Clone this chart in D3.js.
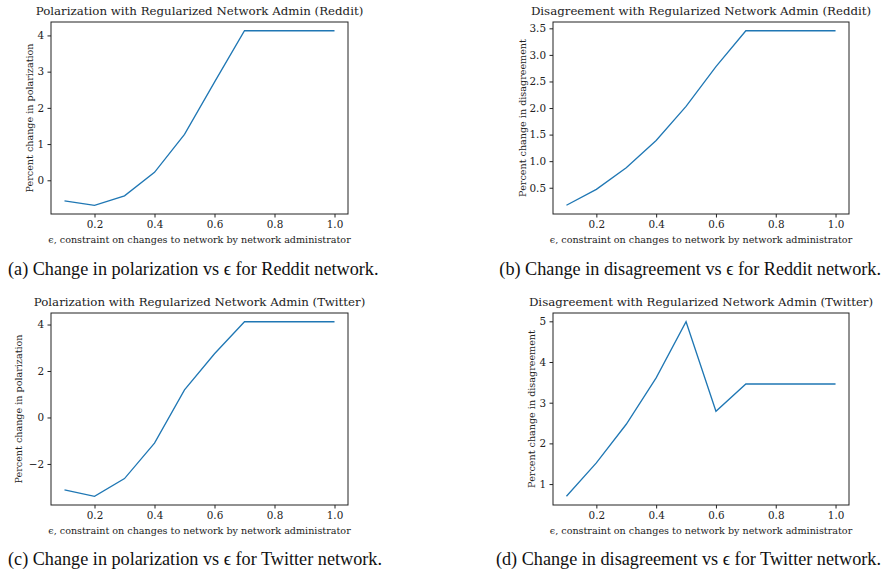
<!DOCTYPE html>
<html>
<head>
<meta charset="utf-8">
<script src="https://cdn.jsdelivr.net/npm/d3@7"></script>
<style>
  body { margin: 0; background: #fff; }
  svg { display: block; }
  .axis text { font-family: "DejaVu Serif", "Liberation Serif", serif; font-size: 10.4px; fill: #222; }
  .axis path, .axis line { stroke: #222; }
</style>
</head>
<body>
<svg id="chart" width="896" height="576"></svg>
<script>
// epsilon values (x)
var eps = [0.1, 0.2, 0.3, 0.4, 0.5, 0.6, 0.7, 0.8, 0.9, 1.0];

// series
var redditPolarization  = [-0.57, -0.69, -0.43, 0.22, 1.27, 2.71, 4.13, 4.13, 4.13, 4.13];
var redditDisagreement  = [0.17, 0.47, 0.875, 1.39, 2.03, 2.78, 3.455, 3.455, 3.455, 3.455];
var twitterPolarization = [-3.11, -3.39, -2.63, -1.10, 1.19, 2.74, 4.12, 4.12, 4.12, 4.12];
var twitterDisagreement = [0.70, 1.52, 2.47, 3.61, 4.99, 2.79, 3.46, 3.46, 3.46, 3.46];

// tick labels
var xTicks = [0.2, 0.4, 0.6, 0.8, 1.0];
var yTicksA = [0, 1, 2, 3, 4];
var yTicksB = [0.5, 1.0, 1.5, 2.0, 2.5, 3.0, 3.5];
var yTicksC = [-2, 0, 2, 4];
var yTicksD = [1, 2, 3, 4, 5];

var titles = [
  "Polarization with Regularized Network Admin (Reddit)",
  "Disagreement with Regularized Network Admin (Reddit)",
  "Polarization with Regularized Network Admin (Twitter)",
  "Disagreement with Regularized Network Admin (Twitter)"
];
var yLabels = [
  "Percent change in polarization",
  "Percent change in disagreement",
  "Percent change in polarization",
  "Percent change in disagreement"
];
var xLabel = "\u03f5, constraint on changes to network by network administrator";
var captions = [
  "(a) Change in polarization vs \u03f5 for Reddit network.",
  "(b) Change in disagreement vs \u03f5 for Reddit network.",
  "(c) Change in polarization vs \u03f5 for Twitter network.",
  "(d) Change in disagreement vs \u03f5 for Twitter network."
];

var svg = d3.select("#chart");
var serif = "'DejaVu Serif', 'Liberation Serif', serif";

function drawPanel(box, values, yTicks, yFmt, title, yLabel, caption) {
  var w = box.right - box.left, h = box.bottom - box.top;
  var g = svg.append("g").attr("transform", "translate(" + box.left + "," + box.top + ")");

  // matplotlib style 5% margins
  var xPad = (d3.max(eps) - d3.min(eps)) * 0.05;
  var yMin = d3.min(values), yMax = d3.max(values);
  var yPad = (yMax - yMin) * 0.05;

  var x = d3.scaleLinear().domain([d3.min(eps) - xPad, d3.max(eps) + xPad]).range([0, w]);
  var y = d3.scaleLinear().domain([yMin - yPad, yMax + yPad]).range([h, 0]);

  var xAxis = d3.axisBottom(x).tickValues(xTicks).tickFormat(d3.format(".1f")).tickSize(3.5).tickPadding(3.5);
  var yAxis = d3.axisLeft(y).tickValues(yTicks).tickFormat(yFmt).tickSize(3.5).tickPadding(3.5);

  g.append("g").attr("class", "axis").attr("transform", "translate(0," + h + ")").call(xAxis)
    .call(function(s) { s.select(".domain").remove(); });
  g.append("g").attr("class", "axis").call(yAxis)
    .call(function(s) { s.select(".domain").remove(); });

  g.append("rect")
    .attr("x", 0).attr("y", 0).attr("width", w).attr("height", h)
    .attr("fill", "none").attr("stroke", "#222").attr("stroke-width", 1);

  var line = d3.line()
    .x(function(d, i) { return x(eps[i]); })
    .y(function(d) { return y(d); });

  g.append("path")
    .datum(values)
    .attr("d", line)
    .attr("fill", "none")
    .attr("stroke", "#1f77b4")
    .attr("stroke-width", 1.3);

  // title
  g.append("text")
    .attr("x", w / 2).attr("y", -7)
    .attr("text-anchor", "middle")
    .style("font-family", serif).style("font-size", "11.8px").style("fill", "#222")
    .text(title);

  // x label
  g.append("text")
    .attr("x", w / 2).attr("y", h + 29)
    .attr("text-anchor", "middle")
    .style("font-family", serif).style("font-size", "9.6px").style("fill", "#222")
    .text(xLabel);

  // y label, pushed out past the tick labels
  g.append("text")
    .attr("transform", "translate(" + (-box.yLabOff) + "," + (h / 2) + ")rotate(-90)")
    .attr("text-anchor", "middle")
    .attr("dy", "0.35em")
    .style("font-family", serif).style("font-size", "9.6px").style("fill", "#222")
    .text(yLabel);

  // sub caption
  svg.append("text")
    .attr("x", box.capX).attr("y", box.capY)
    .attr("text-anchor", box.capAnchor)
    .style("font-family", "'Liberation Serif', serif").style("font-size", "18.2px").style("fill", "#111")
    .text(caption);
}

var fmtInt = d3.format("d");
var fmtMinus = function(d) { return d < 0 ? "\u2212" + Math.abs(d) : String(d); };

drawPanel({left: 51, right: 348, top: 22, bottom: 214, yLabOff: 21, capX: 8, capY: 275, capAnchor: "start"},
  redditPolarization, yTicksA, fmtInt, titles[0], yLabels[0], captions[0]);
drawPanel({left: 553, right: 849, top: 22, bottom: 214, yLabOff: 30, capX: 881, capY: 275, capAnchor: "end"},
  redditDisagreement, yTicksB, d3.format(".1f"), titles[1], yLabels[1], captions[1]);
drawPanel({left: 51, right: 348, top: 313, bottom: 505, yLabOff: 32, capX: 8, capY: 565, capAnchor: "start"},
  twitterPolarization, yTicksC, fmtMinus, titles[2], yLabels[2], captions[2]);
drawPanel({left: 553, right: 849, top: 313, bottom: 505, yLabOff: 21.5, capX: 881, capY: 565, capAnchor: "end"},
  twitterDisagreement, yTicksD, fmtInt, titles[3], yLabels[3], captions[3]);
</script>
</body>
</html>
